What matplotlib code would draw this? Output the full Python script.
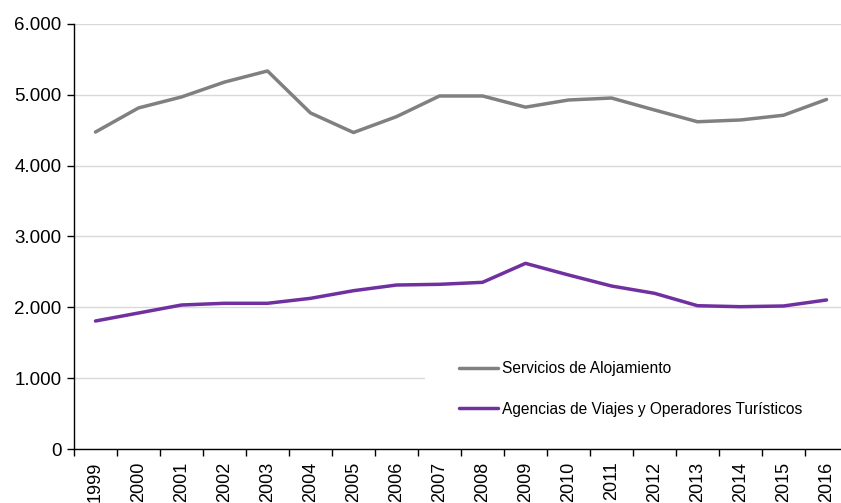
# Servicios de Alojamiento vs Agencias de Viajes, 1999-2016

import numpy as np
import matplotlib
matplotlib.use('Agg')
import matplotlib.pyplot as plt
from matplotlib.patches import Rectangle
from matplotlib.ticker import FuncFormatter, FixedLocator

plt.rcParams['font.family'] = ['Liberation Sans', 'DejaVu Sans']

# data
years = ['1999', '2000', '2001', '2002', '2003', '2004', '2005', '2006', '2007',
         '2008', '2009', '2010', '2011', '2012', '2013', '2014', '2015', '2016']
alojamiento = [4475, 4815, 4970, 5180, 5337, 4744, 4468, 4692, 4984,
               4984, 4826, 4927, 4955, 4786, 4620, 4645, 4712, 4935]
agencias = [1807, 1920, 2033, 2057, 2057, 2127, 2235, 2315, 2325,
            2353, 2621, 2457, 2301, 2198, 2023, 2009, 2019, 2104]
labels = ['Servicios de Alojamiento', 'Agencias de Viajes y Operadores Turísticos']

W, H = 841, 503
fig = plt.figure(figsize=(W / 100, H / 100), dpi=100)
ax = fig.add_axes([74 / W, (H - 449) / H, (848 - 74) / W, (449 - 24) / H])

x = np.arange(len(years))
ax.plot(x, alojamiento, color='#808080', lw=2.5, label=labels[0], solid_capstyle='round')
ax.plot(x, agencias, color='#7030A0', lw=2.5, label=labels[1], solid_capstyle='round')

ax.set_xlim(-0.5, len(years) - 0.5)
ax.set_ylim(0, 6000)
ax.set_yticks(np.arange(0, 6001, 1000))
ax.yaxis.set_major_formatter(FuncFormatter(lambda v, p: '{:,.0f}'.format(v).replace(',', '.')))
ax.grid(axis='y', color='#d9d9d9', lw=1)
ax.set_axisbelow(True)

# x ticks: labels at the centre, tick marks at the boundaries
ax.set_xticks(x)
ax.set_xticklabels(years, rotation=90)
ax.xaxis.set_minor_locator(FixedLocator(np.arange(-0.5, len(years), 1)))
ax.tick_params(axis='x', which='major', length=0, pad=9, labelsize=13, labelcolor='#000000')
ax.tick_params(axis='x', which='minor', length=5, width=1, direction='out', color='#000000')
ax.tick_params(axis='y', length=5, width=1, direction='out', labelsize=13.5, pad=4)

for s in ['top', 'right']:
    ax.spines[s].set_visible(False)
for s in ['left', 'bottom']:
    ax.spines[s].set_color('#000000')
    ax.spines[s].set_linewidth(1)

# white legend area hiding the gridline behind it
ax.add_patch(Rectangle((425 / W, 1 - 440 / H), (848 - 425) / W, 95 / H,
                       transform=fig.transFigure, facecolor='white',
                       edgecolor='none', zorder=1.5, clip_on=False))

leg = ax.legend(loc='upper left', bbox_to_anchor=(459 / W, 1 - 361 / H),
                bbox_transform=fig.transFigure, frameon=False,
                fontsize=11.2, handlelength=2.5, handletextpad=0.25,
                labelspacing=1.65, borderpad=0, borderaxespad=0)
leg.set_zorder(5)

fig.savefig('out.png', dpi=100)
